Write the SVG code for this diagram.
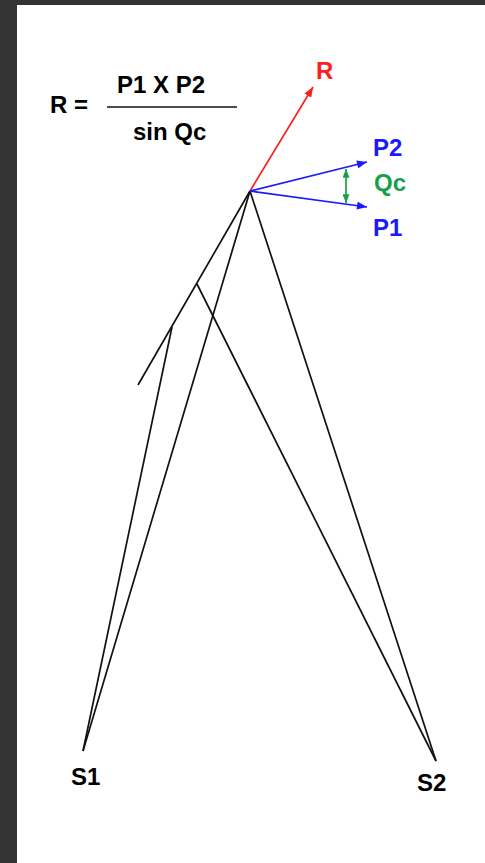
<svg xmlns="http://www.w3.org/2000/svg" width="485" height="863" viewBox="0 0 485 863">
<style>
.lbl{font-family:"Liberation Sans",Arial,sans-serif;font-weight:bold;font-size:24px}
.blk{stroke:#111;stroke-width:1.7;fill:none}
</style>
<defs>
<marker id="ar" viewBox="0 0 10 8" refX="10" refY="4" markerWidth="10" markerHeight="8" markerUnits="userSpaceOnUse" orient="auto"><path d="M0,0 L10,4 L0,8 z" fill="#ff1e1e"/></marker>
<marker id="ab" viewBox="0 0 10 8" refX="10" refY="4" markerWidth="11" markerHeight="8" markerUnits="userSpaceOnUse" orient="auto"><path d="M0,0 L10,4 L0,8 z" fill="#1a1aff"/></marker>
<marker id="ag" viewBox="0 0 10 8" refX="10" refY="4" markerWidth="9" markerHeight="7" markerUnits="userSpaceOnUse" orient="auto-start-reverse"><path d="M0,0 L10,4 L0,8 z" fill="#17a04a"/></marker>
</defs>
<rect width="485" height="863" fill="#333333"/>
<rect x="17" y="5" width="468" height="858" fill="#ffffff"/>
<g id="formula">
<text class="lbl" x="50" y="113">R =</text>
<text class="lbl" x="117" y="93">P1 X P2</text>
<line x1="107" y1="107" x2="237" y2="107" stroke="#111" stroke-width="1.7"/>
<text class="lbl" x="133" y="140">sin Qc</text>
</g>
<g id="connectors">
<line class="blk" x1="250" y1="191" x2="138" y2="385"/>
<line class="blk" x1="250" y1="191" x2="83" y2="751"/>
<line class="blk" x1="172" y1="327" x2="83" y2="751"/>
<line class="blk" x1="197" y1="284" x2="436" y2="761"/>
<line class="blk" x1="250" y1="191" x2="436" y2="761"/>
<line x1="250" y1="191" x2="313" y2="87" stroke="#ff1e1e" stroke-width="1.7" marker-end="url(#ar)"/>
<line x1="250" y1="191" x2="367" y2="162" stroke="#1a1aff" stroke-width="1.7" marker-end="url(#ab)"/>
<line x1="250" y1="191" x2="367" y2="207" stroke="#1a1aff" stroke-width="1.7" marker-end="url(#ab)"/>
<line x1="346" y1="169" x2="346" y2="203" stroke="#17a04a" stroke-width="1.7" marker-start="url(#ag)" marker-end="url(#ag)"/>
</g>
<g id="R"><text class="lbl" x="316" y="79" fill="#ff1e1e">R</text></g>
<g id="P2"><text class="lbl" x="373" y="156" fill="#1a1aff">P2</text></g>
<g id="Qc"><text class="lbl" x="374" y="191" fill="#17a04a">Qc</text></g>
<g id="P1"><text class="lbl" x="373" y="236" fill="#1a1aff">P1</text></g>
<g id="S1"><text class="lbl" x="71" y="785">S1</text></g>
<g id="S2"><text class="lbl" x="417" y="791">S2</text></g>
</svg>
